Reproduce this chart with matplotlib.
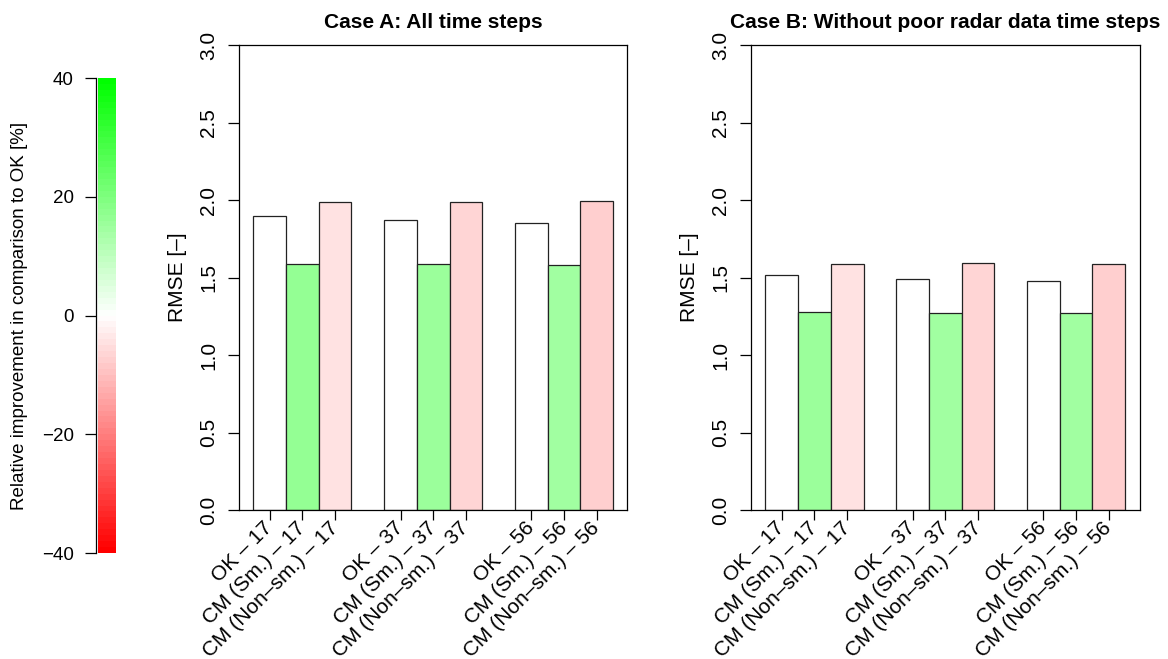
import numpy as np
import matplotlib
matplotlib.use("Agg")
import matplotlib.pyplot as plt
from matplotlib.colors import LinearSegmentedColormap, Normalize

plt.rcParams['font.family'] = ['Liberation Sans', 'DejaVu Sans']

# RMSE per method and number of stations
methods = ["OK", "CM (Sm.)", "CM (Non\u2013sm.)"]
stations = ["17", "37", "56"]
rmse_a = {
    "OK": [1.899, 1.871, 1.854],
    "CM (Sm.)": [1.589, 1.587, 1.583],
    "CM (Non\u2013sm.)": [1.989, 1.989, 1.992],
}
rmse_b = {
    "OK": [1.518, 1.490, 1.477],
    "CM (Sm.)": [1.279, 1.273, 1.269],
    "CM (Non\u2013sm.)": [1.589, 1.592, 1.589],
}
titles = ["Case A: All time steps", "Case B: Without poor radar data time steps"]

cmap = LinearSegmentedColormap.from_list("rwg", ["#FF0000", "#FFFFFF", "#00FF00"], N=80)
norm = Normalize(-40, 40)

fig = plt.figure(figsize=(11.68, 6.59), dpi=100)

# colour key for relative improvement
cax = fig.add_axes([0.0839, 0.1608, 0.0154, 0.7208])
edges = np.linspace(-40, 40, 81)
mids = 0.5 * (edges[:-1] + edges[1:])
cax.pcolormesh([0, 1], edges, mids[:, None], cmap=cmap, norm=norm)
cax.set_xlim(0, 1)
cax.set_ylim(-40, 40)
for s in ["top", "right", "bottom"]:
    cax.spines[s].set_visible(False)
cax.spines["left"].set_position(("outward", 1.5))
cax.spines["left"].set_linewidth(0.9)
cax.set_xticks([])
cax.set_yticks([-40, -20, 0, 20, 40])
cax.tick_params(axis="y", length=8, width=0.9, pad=8, labelsize=13.5)
cax.set_ylabel("Relative improvement in comparison to OK [%]", fontsize=13.5, labelpad=10)


def draw_panel(ax, data, title):
    width = 1.0
    labels, ticks = [], []
    for g, st in enumerate(stations):
        ok = data["OK"][g]
        for m, name in enumerate(methods):
            left = 1 + g * 4 + m
            val = data[name][g]
            if name == "OK":
                color = "white"
            else:
                color = cmap(norm((ok - val) / ok * 100))
            ax.bar(left, val, width=width, align="edge", color=color,
                   edgecolor="#222222", linewidth=0.9)
            ticks.append(left + 0.5)
            labels.append(f"{name} \u2013 {st}")
    ax.set_xlim(0.56, 12.44)
    ax.set_ylim(0, 3)
    ax.set_yticks(np.arange(0, 3.01, 0.5))
    ax.set_yticklabels([f"{v:.1f}" for v in np.arange(0, 3.01, 0.5)],
                       rotation=90, va="center")
    ax.set_xticks(ticks)
    ax.set_xticklabels(labels, rotation=45, ha="right", va="center",
                       rotation_mode="anchor")
    ax.tick_params(axis="y", length=8, width=0.9, pad=7, labelsize=15)
    ax.tick_params(axis="x", length=7, width=0.9, pad=4, labelsize=15)
    for s in ax.spines.values():
        s.set_linewidth(0.9)
    ax.set_ylabel("RMSE [\u2013]", fontsize=15, labelpad=9)
    ax.set_title(title, fontsize=15, fontweight="bold", pad=12)


ax1 = fig.add_axes([0.2046, 0.2261, 0.3326, 0.7056])
ax2 = fig.add_axes([0.6430, 0.2261, 0.3326, 0.7056])
draw_panel(ax1, rmse_a, titles[0])
draw_panel(ax2, rmse_b, titles[1])

fig.savefig("out.png", dpi=100)
